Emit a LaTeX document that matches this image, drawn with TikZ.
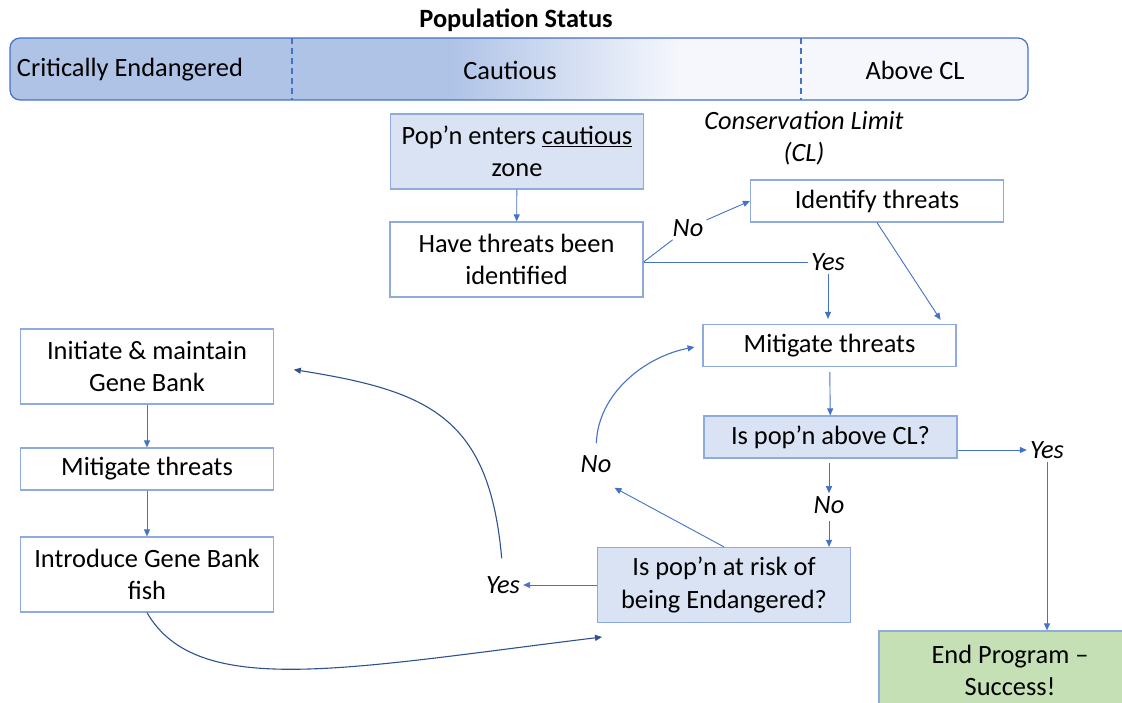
\documentclass[tikz,border=0pt]{standalone}
\usepackage{fontspec}
\setmainfont{Carlito}
\usepackage{xcolor}
\usepackage{tikz}
\usetikzlibrary{arrows.meta}
\definecolor{lineblue}{RGB}{68,114,196}
\definecolor{curveblue}{RGB}{47,82,143}
\definecolor{boxblue}{RGB}{143,170,220}
\definecolor{fillblue}{RGB}{218,227,243}
\definecolor{barblue}{RGB}{175,195,231}
\definecolor{barwhite}{RGB}{245,247,252}
\definecolor{fillgreen}{RGB}{197,224,180}
\tikzset{
	main node/.style={rectangle,draw=boxblue,line width=1.2pt,fill=white,align=center,
		font=\fontsize{26.4}{32.5}\selectfont,minimum width=253pt,minimum height=42pt,inner sep=0pt},
	tall node/.style={main node,minimum height=75pt},
	blue node/.style={fill=fillblue},
	answer node/.style={font=\fontsize{26.4}{32.5}\selectfont\itshape,inner sep=3pt,align=center},
	bar text/.style={font=\fontsize{26.4}{32.5}\selectfont}
}

\begin{document}
\begin{tikzpicture}[->,>={Triangle[length=7pt,width=6pt]},x=1pt,y=1pt,
            flow/.style={draw=lineblue,line width=0.9pt},
            gene curve/.style={draw=curveblue,line width=1.1pt}]
  \path[use as bounding box] (0,0) rectangle (1122,-703);
  \clip (0,0) rectangle (1122,-703);
  % status bar
  \fill[barwhite,rounded corners=10pt] (10,-38) rectangle (1028,-100);
  \begin{scope}
    \clip[rounded corners=10pt] (10,-38) rectangle (1028,-100);
    \fill[barblue] (10,-38) rectangle (450,-100);
    \shade[left color=barblue,right color=barwhite] (450,-38) rectangle (680,-100);
  \end{scope}
  \draw[-,lineblue,line width=1.2pt,rounded corners=10pt] (10,-38) rectangle (1028,-100);
  \draw[-,lineblue,line width=1.2pt,dash pattern=on 6pt off 4pt] (292,-38) -- (292,-100);
  \draw[-,lineblue,line width=1.2pt,dash pattern=on 6pt off 4pt] (801,-38) -- (801,-100);
  \node[bar text,font=\fontsize{26.4}{32.5}\selectfont\bfseries] (title) at (516,-20) {Population Status};
  \node[bar text] (ce) at (130,-70) {Critically Endangered};
  \node[bar text] (ca) at (510,-70) {Cautious};
  \node[bar text] (acl) at (915,-70) {Above CL};
  \node[answer node] (cl) at (804,-138) {Conservation Limit\\(CL)};

  % boxes
  \node[tall node,blue node] (1) at (517,-151.5) {Pop’n enters \underline{cautious}\\zone};
  \node[tall node] (2) at (516.5,-259.5) {Have threats been\\identified};
  \node[main node] (3) at (877,-201) {Identify threats};
  \node[main node] (4) at (829.5,-345.5) {Mitigate threats};
  \node[main node,blue node] (5) at (830.5,-437) {Is pop’n above CL?};
  \node[tall node,blue node] (6) at (724,-585) {Is pop’n at risk of\\being Endangered?};
  \node[tall node,fill=fillgreen,minimum width=262pt,minimum height=79pt] (7) at (1010,-670.5) {End Program –\\Success!};
  \node[tall node] (8) at (147,-366.5) {Initiate \& maintain\\Gene Bank};
  \node[main node] (9) at (147,-469) {Mitigate threats};
  \node[tall node] (10) at (147,-574.5) {Introduce Gene Bank\\fish};

  % answers
  \node[answer node] (n1) at (688,-228) {No};
  \node[answer node] (y1) at (828,-262) {Yes};
  \node[answer node] (y2) at (1047,-450) {Yes};
  \node[answer node] (n2) at (829,-505) {No};
  \node[answer node] (n3) at (596,-464) {No};
  \node[answer node] (y3) at (503,-585) {Yes};
  \coordinate (gb) at (602,-637);

  % connectors
  \draw[flow] (1) -- (2);
  \draw[flow] (2.east |- y1) -- (n1) -- (3.west);
  \draw[flow,-] (2.east |- y1) -- (y1);
  \draw[flow,shorten >=5pt] (y1) -- (y1 |- 4.north);
  \draw[flow] (3.south) -- ([xshift=-16pt,yshift=4pt]4.north east);
  \draw[flow,shorten <=5pt] (4) -- (5);
  \draw[flow] (5.east |- y2) -- (y2);
  \draw[flow] (y2) -- (y2 |- 7.north);
  \draw[flow,shorten <=4pt] (n2 |- 5.south) -- (n2);
  \draw[flow,shorten <=4pt] (n2) -- (n2 |- 6.north);
  \draw[flow] (6.north) -- ([yshift=-12pt]n3.south east);
  \draw[flow,line width=1.1pt,shorten <=9pt,shorten >=8pt] (n3.north) to[out=88,in=191] (4.west);
  \draw[flow] (6.west) -- (y3);
  \draw[gene curve,shorten <=15pt,shorten >=20pt] (y3.north) to[out=95,in=-9,looseness=1.3] (8.east);
  \draw[flow] (8) -- (9);
  \draw[flow] (9) -- (10);
  \draw[gene curve] (10.south) to[out=-60,in=187,out distance=100pt,in distance=260pt] (gb);
\end{tikzpicture}
\end{document}
